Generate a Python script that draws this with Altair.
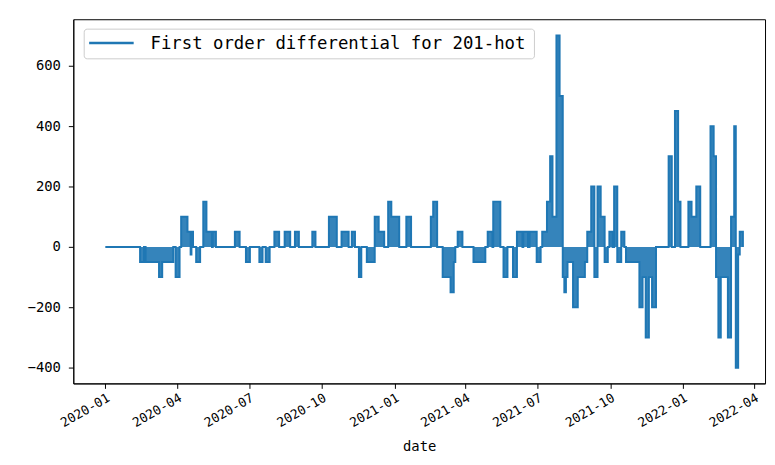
import altair as alt
import pandas as pd

series_label = "First order differential for 201-hot"

# change points of the differential series (value holds until the next date)
change_dates = [
    "2020-01-01", "2020-02-14", "2020-02-19", "2020-02-21", "2020-03-09", "2020-03-13",
    "2020-03-27", "2020-03-30", "2020-04-04", "2020-04-06", "2020-04-14", "2020-04-18",
    "2020-04-19", "2020-04-21", "2020-04-25", "2020-04-30", "2020-05-04", "2020-05-08",
    "2020-05-15", "2020-05-16", "2020-05-20", "2020-06-13", "2020-06-19", "2020-06-27",
    "2020-07-02", "2020-07-14", "2020-07-18", "2020-07-22", "2020-07-27", "2020-08-02",
    "2020-08-08", "2020-08-15", "2020-08-22", "2020-08-28", "2020-09-02", "2020-09-19",
    "2020-09-23", "2020-10-10", "2020-10-20", "2020-10-26", "2020-11-04", "2020-11-08",
    "2020-11-12", "2020-11-17", "2020-11-20", "2020-11-27", "2020-12-07", "2020-12-12",
    "2020-12-19", "2020-12-24", "2020-12-28", "2021-01-07", "2021-01-16", "2021-01-22",
    "2021-02-16", "2021-02-19", "2021-02-24", "2021-03-03", "2021-03-13", "2021-03-17",
    "2021-03-19", "2021-03-22", "2021-03-28", "2021-04-11", "2021-04-26", "2021-04-29",
    "2021-05-05", "2021-05-06", "2021-05-15", "2021-05-19", "2021-05-24", "2021-05-31",
    "2021-06-05", "2021-06-12", "2021-06-13", "2021-06-19", "2021-06-21", "2021-06-30",
    "2021-07-05", "2021-07-07", "2021-07-13", "2021-07-17", "2021-07-20", "2021-07-25",
    "2021-07-29", "2021-08-02", "2021-08-04", "2021-08-06", "2021-08-08", "2021-08-15",
    "2021-08-21", "2021-08-30", "2021-09-02", "2021-09-07", "2021-09-11", "2021-09-15",
    "2021-09-19", "2021-09-24", "2021-09-28", "2021-09-30", "2021-10-04", "2021-10-06",
    "2021-10-10", "2021-10-15", "2021-10-19", "2021-10-21", "2021-11-07", "2021-11-11",
    "2021-11-15", "2021-11-19", "2021-11-23", "2021-11-28", "2021-12-14", "2021-12-18",
    "2021-12-22", "2021-12-26", "2021-12-29", "2022-01-08", "2022-01-12", "2022-01-18",
    "2022-01-23", "2022-02-05", "2022-02-09", "2022-02-12", "2022-02-15", "2022-02-18",
    "2022-02-27", "2022-03-03", "2022-03-07", "2022-03-09", "2022-03-12", "2022-03-14",
    "2022-03-18",
]
change_values = [
    0, -50, 0, -50, -100, -50,
    0, -100, 0, 100, 50, -25,
    50, 0, -50, 0, 150, 50,
    0, 50, 0, 50, 0, -50,
    0, -50, 0, -50, 0, 50,
    0, 50, 0, 50, 0, 50,
    0, 100, 0, 50, 0, 50,
    0, -100, 0, -50, 100, 50,
    0, 150, 100, 0, 100, 0,
    100, 150, 0, -100, -150, -50,
    0, 50, 0, -50, 0, 50,
    0, 150, 0, -100, 0, -100,
    50, 0, 50, 0, 50, -50,
    0, 50, 150, 300, 100, 700,
    500, -100, -150, -100, -50, -200,
    -100, -50, 50, 200, -100, 200,
    100, -50, 0, 50, 0, 200,
    -50, 50, 0, -50, -200, -100,
    -300, -100, -200, 0, 300, 0,
    450, 150, 0, 150, 100, 200,
    0, 400, 300, -100, -300, -100,
    -300, 100, 400, -400, -25, 50,
    0,
]

y_ticks = [-400, -200, 0, 200, 400, 600]
x_tick_months = [(2020, 1), (2020, 4), (2020, 7), (2020, 10), (2021, 1), (2021, 4),
                 (2021, 7), (2021, 10), (2022, 1), (2022, 4)]

BLUE = "#1f77b4"
MONO = "DejaVu Sans Mono"

df = pd.DataFrame({"date": change_dates, "value": change_values})
legend_df = pd.DataFrame({"label": [series_label]})

x_values = [alt.DateTime(year=y, month=m, date=1, utc=True) for y, m in x_tick_months]

x_enc = alt.X(
    "date:T",
    scale=alt.Scale(
        type="utc",
        domain=[alt.DateTime(year=2019, month=11, date=21, hours=12, utc=True),
                alt.DateTime(year=2022, month=4, date=15, utc=True)],
    ),
    axis=alt.Axis(
        values=x_values, format="%Y-%m", labelAngle=330, labelAlign="right",
        labelBaseline="top", labelFont=MONO, labelFontSize=13,
        labelColor="black", tickColor="black", domainColor="black", tickSize=5,
        labelPadding=3, grid=False, labelOverlap=False, title="date",
        titleFont=MONO, titleFontSize=14, titleFontWeight="normal",
        titleColor="black", titlePadding=10,
    ),
)
y_enc = alt.Y(
    "value:Q",
    scale=alt.Scale(domain=[-452, 754], nice=False, zero=False),
    axis=alt.Axis(
        values=y_ticks, labelFont=MONO, labelFontSize=14,
        labelColor="black", tickColor="black", domainColor="black", tickSize=5,
        labelPadding=8, grid=False, title=None,
    ),
)

base = alt.Chart(df)
area = base.mark_area(interpolate="step-after", color=BLUE, opacity=0.9).encode(
    x=x_enc, y=y_enc, y2=alt.datum(0)
)
line = base.mark_line(interpolate="step-after", strokeWidth=2, color=BLUE).encode(
    x=x_enc, y=y_enc
)

leg = alt.Chart(legend_df)
leg_box = leg.mark_rect(fill="white", stroke="#cccccc", strokeWidth=1, cornerRadius=3).encode(
    x=alt.value(11), x2=alt.value(466), y=alt.value(10), y2=alt.value(40)
)
leg_line = leg.mark_rule(color=BLUE, strokeWidth=2.5).encode(
    x=alt.value(16), x2=alt.value(61), y=alt.value(24)
)
leg_text = leg.mark_text(align="left", baseline="middle", font=MONO, fontSize=17.5,
                         color="black").encode(
    x=alt.value(78), y=alt.value(25), text="label:N"
)

chart = alt.layer(area, line, leg_box, leg_line, leg_text).properties(
    width=699,
    height=368,
    autosize=alt.AutoSizeParams(type="none"),
    padding={"left": 66, "top": 9, "right": 2, "bottom": 72},
    background="white",
).configure_view(stroke="black", strokeWidth=1)

chart.save("out.html", embed_options={"renderer": "svg", "actions": False})
